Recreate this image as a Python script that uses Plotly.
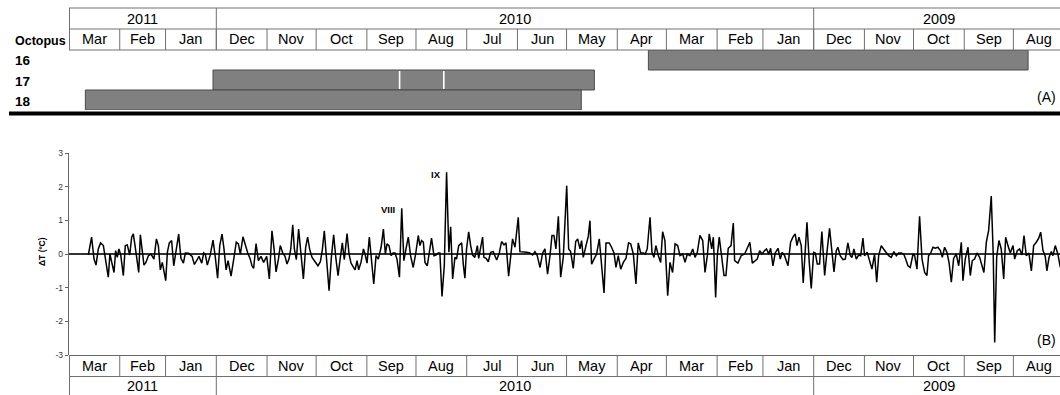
import pandas as pd
import plotly.graph_objects as go

W, H = 1060, 395
FONT = "Liberation Sans, Arial, sans-serif"

# ---------------- data ----------------
month_labels = ["Mar", "Feb", "Jan", "Dec", "Nov", "Oct", "Sep", "Aug", "Jul", "Jun",
                "May", "Apr", "Mar", "Feb", "Jan", "Dec", "Nov", "Oct", "Sep", "Aug"]
month_starts = ["2011-03-01", "2011-02-01", "2011-01-01", "2010-12-01", "2010-11-01",
                "2010-10-01", "2010-09-01", "2010-08-01", "2010-07-01", "2010-06-01",
                "2010-05-01", "2010-04-01", "2010-03-01", "2010-02-01", "2010-01-01",
                "2009-12-01", "2009-11-01", "2009-10-01", "2009-09-01", "2009-08-01"]
month_ends = ["2011-04-01"] + month_starts[:-1]

year_labels = ["2011", "2010", "2009"]
year_starts = ["2011-01-01", "2010-01-01", "2009-08-01"]
year_ends = ["2011-04-01", "2011-01-01", "2010-01-01"]

octopus_ids = [16, 17, 18]
record_start = ["2009-08-23", "2010-05-15", "2010-05-23"]
record_end = ["2010-04-12", "2011-01-03", "2011-03-22"]
gaps_octopus17 = ["2010-08-15", "2010-09-11"]

x_range = ["2011-04-01", "2009-08-03 12:00"]
reference_day = "2011-04-01"

# days before 1 April 2011, and daily temperature change (deg C)
day_offset = [
    11.8, 13.8, 15.3, 16.5, 17.9, 19.3, 21.0, 22.6, 24.0, 25.0, 26.5, 27.5, 28.5, 29.5, 30.5,
    31.6, 33.2, 34.4, 35.6, 37.1, 38.3, 39.3, 40.5, 41.3, 42.6, 43.6, 44.8, 45.8, 47.0, 48.5,
    50.1, 51.9, 53.4, 54.6, 55.8, 57.0, 59.1, 60.1, 61.3, 62.7, 64.0, 65.4, 67.0, 68.4, 69.9,
    71.1, 73.1, 75.2, 76.6, 78.0, 79.4, 81.1, 82.3, 83.3, 84.5, 86.2, 88.0, 89.4, 90.8, 92.1,
    93.5, 94.7, 96.0, 97.2, 99.0, 100.6, 102.2, 103.5, 104.7, 106.3, 107.7, 109.2, 110.6, 111.8,
    112.8, 114.3, 115.7, 117.3, 118.9, 120.8, 122.4, 124.0, 125.3, 126.5, 127.9, 129.1, 130.6,
    132.0, 133.2, 134.4, 135.5, 136.7, 137.7, 138.9, 140.3, 141.8, 143.2, 144.6, 145.8, 147.1,
    148.5, 149.5, 150.9, 152.1, 153.6, 154.8, 156.0, 157.4, 158.9, 160.3, 161.7, 163.0, 164.4,
    165.6, 167.0, 168.2, 169.9, 171.1, 172.3, 173.3, 174.8, 176.0, 177.0, 178.4, 179.9, 180.9,
    182.1, 183.5, 184.7, 186.2, 187.6, 189.0, 190.7, 192.1, 193.3, 194.3, 195.5, 196.8, 198.0,
    199.2, 200.4, 201.9, 203.3,
    204.6, 205.9, 207.3, 208.7, 210.3, 211.8, 213.4, 214.4, 215.4, 216.5, 217.5, 218.9, 220.1,
    221.5, 223.0, 224.2, 225.6, 226.6, 227.9, 229.3, 230.7, 232.1, 233.2, 234.4, 235.8, 236.8,
    238.1, 239.9, 240.9, 241.9, 242.9, 244.2, 245.4, 246.6, 248.0, 249.5, 250.3, 251.5, 252.7,
    253.5, 254.8, 256.2, 257.6, 259.2, 260.3, 261.3, 262.9, 264.3, 265.8, 267.0, 268.6, 269.8,
    271.0, 272.5, 274.5, 275.5, 277.6, 279.6, 281.6, 283.3, 284.7, 286.1, 287.8, 289.4, 290.8,
    292.4, 293.9, 295.1, 296.3, 297.5, 299.0, 300.4, 302.0, 304.1, 305.3, 306.5, 308.1, 309.6,
    310.8, 312.2, 313.2, 314.2, 315.9, 317.3, 318.3, 319.3, 320.8, 322.4, 324.0, 325.2, 326.9,
    328.1, 330.1, 331.5, 333.0, 334.2, 335.6, 337.1, 338.7, 340.3, 341.9, 343.2, 344.8, 346.4,
    347.8, 349.3, 350.9, 352.1, 353.3, 355.0, 356.2, 357.4, 358.6, 360.1, 361.5, 362.7, 364.1,
    365.8, 367.2, 368.8, 370.3, 371.9, 373.3, 375.0, 376.4, 377.8, 379.4, 381.1, 382.5, 383.9,
    385.5, 387.2, 388.6, 390.0, 391.2, 392.7, 393.7, 395.1, 396.1, 397.3, 398.8, 400.2, 401.4,
    402.8, 404.5, 405.9,
    406.7, 408.7, 410.7, 412.8, 414.4, 416.0, 417.5, 418.9, 420.5, 422.0, 423.4, 425.0, 426.2,
    427.5, 428.7, 430.1, 431.5, 433.2, 434.6, 435.8, 437.2, 439.3, 440.9, 442.3, 443.7, 444.8,
    446.0, 447.4, 448.6, 449.9, 450.9, 452.3, 453.5, 455.0, 456.0, 457.2, 458.6, 460.0, 461.7,
    463.1, 464.7, 466.2, 467.4, 468.8, 469.8, 471.2, 472.9, 474.3, 475.9, 477.4, 478.4, 479.6,
    481.0, 482.5, 483.7, 485.1, 486.1, 487.7, 489.2, 490.6, 492.2, 493.5, 494.7, 496.3, 497.7,
    499.4, 500.8, 502.4, 504.0, 505.5, 506.9, 508.5, 510.0, 511.2, 512.6, 514.0, 515.7, 516.7,
    518.1, 519.7, 521.2, 522.8, 524.2, 525.2, 526.5, 527.9, 529.3, 530.9, 532.4, 533.6, 535.0,
    536.4, 537.7, 539.1, 540.5, 542.1, 543.6, 545.2, 546.2, 547.6, 549.3, 550.7, 551.9, 553.3,
    554.8, 556.4, 557.8, 559.0, 560.5, 561.9, 563.5, 564.7, 565.6, 566.8, 568.2, 569.6, 571.1,
    572.3, 573.7, 575.1, 576.8, 577.8, 579.4, 580.8, 582.3, 583.5, 584.9, 586.5, 588.0, 589.4,
    591.0, 592.5, 593.7, 595.1, 596.5, 597.5, 598.8, 600.2, 601.2, 602.6, 604.2, 605.7,
]
delta_t = [
    -0.03, 0.50, -0.15, -0.33, 0.15, 0.33, 0.25, -0.25, -0.69, 0.00, -0.35, -0.55, 0.10, -0.10, 0.15,
    -0.03, -0.64, 0.25, 0.27, -0.03, 0.50, 0.60, 0.20, -0.07, -0.55, 0.57, 0.15, -0.33, -0.25, -0.05,
    0.00, -0.15, 0.45, 0.25, -0.47, -0.25, -0.79, 0.05, 0.33, 0.40, -0.35, 0.15, 0.59, -0.13, -0.27,
    0.03, 0.02, -0.07, -0.31, -0.20, -0.07, -0.27, 0.03, -0.01, -0.33, -0.05, 0.41, -0.10, -0.72, 0.25,
    0.59, 0.15, -0.47, -0.20, -0.66, -0.17, 0.35, 0.30, 0.00, 0.51, 0.25, 0.03, -0.13, -0.35,
    -0.43, 0.31, -0.20, -0.07, -0.25, -0.07, -0.74, 0.69, 0.15, -0.53, -0.17, 0.25, 0.03,
    -0.07, -0.30, -0.15, 0.15, 0.87, 0.15, -0.17, 0.74, -0.15, -0.74, 0.20, 0.50, 0.13,
    -0.10, -0.17, -0.27, -0.35, -0.23, 0.13, 0.69, -0.17, -1.09, -0.10, 0.57, -0.10, -0.64,
    -0.17, 0.33, -0.17, 0.61, 0.00, -0.27, -0.35, -0.47, -0.20, -0.47, -0.25, 0.15, 0.00,
    -0.27, 0.50, -0.20, -0.89, -0.05, -0.15, 0.20, 0.74, 0.00, 0.30, 0.25, -0.05, 0.03,
    0.03, -0.15, -0.69, 1.36,
    -0.20, 0.15, 0.50, -0.05, -0.40, 0.00, 0.55, 0.25, 0.40, 0.35, -0.25, -0.35, 0.00,
    0.47, -0.05, -0.03, 0.03, 0.03, -1.26, -0.35, 2.43, 0.05, 0.81, -0.74, -0.10, -0.15,
    0.25, 0.33, -0.30, -0.72, 0.15, 0.66, 0.25, -0.03, -0.10, 0.25, -0.13, 0.15, 0.50,
    -0.10, -0.13, -0.23, 0.05, 0.07, -0.05, -0.18, 0.03, 0.37, 0.27, 0.33, -0.66, -0.05,
    0.45, 0.20, 1.09, 0.07, 0.07, 0.05, 0.03, -0.03, 0.07, -0.05, -0.40, 0.03, 0.15,
    -0.60, -0.05, 0.55, 0.55, 0.15, 1.12, -0.69, -0.10, 2.03, 0.15, 0.07, -0.43, 0.37,
    0.45, 0.15, 0.40, -0.10, 0.25, 0.53, 0.99, -0.30, -0.15, 0.00, 0.45, -0.15, -1.16,
    0.33, 0.33, 0.20, 0.03, -0.40, -0.05, -0.45, -0.25, -0.13, 0.33, 0.30, 0.00, -0.89,
    0.33, 0.03, 0.03, 0.00, 0.15, 1.09, 0.05, -0.10, 0.25, -0.05, -0.25, 0.66, 0.40,
    -1.24, -0.25, -0.55, 0.30, 0.25, -0.05, 0.00, -0.25, 0.00, -0.05, 0.15, -0.10, 0.05,
    0.55, 0.40, -0.55, -0.05, 0.60, 0.15, 0.50, -1.29, -0.05, 0.50, -0.15, -0.64, -0.64,
    0.17, 0.25, 0.92,
    -0.20, -0.27, -0.05, 0.00, 0.17, 0.35, -0.27, -0.20, -0.15, 0.10, 0.00, 0.10, 0.15,
    0.00, 0.17, -0.35, 0.03, 0.17, -0.15, 0.05, -0.05, -0.35, 0.35, 0.50, 0.60, 0.25,
    0.50, 0.25, -0.86, 0.15, 0.94, -0.25, -1.02, 0.05, 0.03, -0.30, -0.30, 0.67, -0.64,
    0.05, 0.76, 0.05, -0.53, 0.10, 0.20, -0.05, -0.17, -0.15, 0.33, -0.05, -0.10, 0.15,
    -0.15, -0.03, -0.05, 0.47, -0.05, 0.05, -0.25, -0.45, 0.00, -0.84, -0.05, 0.25, 0.15,
    0.03, -0.05, -0.10, 0.07, -0.05, 0.03, 0.03, 0.00, -0.15, -0.35, -0.40, 0.00, -0.05,
    -0.45, 1.12, -0.15, -0.55, -0.64, -0.05, 0.03, 0.20, 0.17, 0.20, 0.10, -0.10, 0.20,
    0.05, -0.25, -0.84, -0.13, 0.00, -0.35, 0.35, -0.79, -0.15, 0.20, -0.64, -0.20, -0.15,
    0.03, -0.10, -0.35, -0.55, 0.35, 0.70, 1.72, 0.00, -2.63, -0.10, 0.40, 0.15, -0.74,
    0.50, 0.25, 0.03, 0.25, -0.15, 0.10, 0.15, -0.03, 0.55, -0.05, 0.03, -0.50, 0.25,
    0.35, 0.47, 0.65, 0.10, -0.07, -0.50, -0.10, 0.07, -0.05, 0.25, 0.00, -0.40,
]

y_tick_values = [-3, -2, -1, 0, 1, 2, 3]
y_tick_labels = ["-3", "-2", "-1", "0", "1", "2", "3"]

peak_labels = ["VIII", "IX"]

# ---------------- helpers (layout geometry) ----------------
def py(pix):
    return 1 - pix / H

def pxp(pix):
    return pix / W

def mid(a, b):
    a, b = pd.Timestamp(a), pd.Timestamp(b)
    return a + (b - a) / 2

LINE_C = "#707070"
X_LEFT = 69

dates = pd.Timestamp(reference_day) - pd.to_timedelta(day_offset, unit="D")

fig = go.Figure()

# gantt bars (panel A)
durations = [(pd.Timestamp(e) - pd.Timestamp(s)).total_seconds() * 1000
             for s, e in zip(record_start, record_end)]
fig.add_trace(go.Bar(
    y=octopus_ids, x=durations, base=record_start, orientation="h", width=1,
    marker=dict(color="#808080", line=dict(color="#4a4a4a", width=1)),
    xaxis="x2", yaxis="y2", showlegend=False, hoverinfo="skip",
))
gx, gy = [], []
for g in gaps_octopus17:
    gx += [g, g, None]
    gy += [16.55, 17.45, None]
fig.add_trace(go.Scatter(x=gx, y=gy, mode="lines", line=dict(color="white", width=1.6),
                         xaxis="x2", yaxis="y2", showlegend=False, hoverinfo="skip"))

# temperature series (panel B)
fig.add_trace(go.Scatter(x=dates, y=delta_t, mode="lines",
                         line=dict(color="black", width=1.5),
                         xaxis="x", yaxis="y", showlegend=False))

shapes = []
annotations = []

def hline(ypix, color=LINE_C, width=1, x0=X_LEFT):
    shapes.append(dict(type="line", xref="paper", yref="paper", x0=pxp(x0), x1=1,
                       y0=py(ypix), y1=py(ypix), line=dict(color=color, width=width)))

def vline_date(d, y0pix, y1pix):
    shapes.append(dict(type="line", xref="x", yref="paper", x0=d, x1=d,
                       y0=py(y0pix), y1=py(y1pix), line=dict(color=LINE_C, width=1)))

def vline_left(y0pix, y1pix):
    shapes.append(dict(type="line", xref="paper", yref="paper", x0=pxp(X_LEFT + 0.5),
                       x1=pxp(X_LEFT + 0.5), y0=py(y0pix), y1=py(y1pix),
                       line=dict(color=LINE_C, width=1)))

def text(x, y, s, size, xref="x", bold=False, xanchor="center", color="black", angle=0):
    annotations.append(dict(x=x, y=y, xref=xref, yref="paper", text=(f"<b>{s}</b>" if bold else s),
                            showarrow=False, xanchor=xanchor, yanchor="middle", textangle=angle,
                            font=dict(family=FONT, size=size, color=color)))

# --- top table (years + months) ---
for yp in (8, 29, 50):
    hline(yp)
vline_left(8, 50)
for ys in year_starts[:2]:
    vline_date(ys, 8, 50)
for ms in month_starts:
    vline_date(ms, 29, 50)
for lab, s, e in zip(year_labels, year_starts, year_ends):
    text(mid(s, e), py(18.5), lab, 14.5)
for lab, s, e in zip(month_labels, month_starts, month_ends):
    text(mid(s, e), py(39.5), lab, 14.5)

# --- bottom table (months + years) ---
hline(355.5, color="#666666")
hline(376.5)
vline_left(355, 395)
for ys in year_starts[:2]:
    vline_date(ys, 376, 395)
for ms in month_starts:
    vline_date(ms, 355, 376)
for lab, s, e in zip(month_labels, month_starts, month_ends):
    text(mid(s, e), py(366), lab, 14.5)
for lab, s, e in zip(year_labels, year_starts, year_ends):
    text(mid(s, e), py(386), lab, 14.5)

# thick separator
shapes.append(dict(type="line", xref="paper", yref="paper", x0=pxp(9), x1=1,
                   y0=py(113.5), y1=py(113.5), line=dict(color="black", width=4)))

# labels
text(pxp(13), py(41), "Octopus", 12.5, xref="paper", bold=True, xanchor="left")
for oid, yp in zip(octopus_ids, (61, 81, 101)):
    text(pxp(13), py(yp), str(oid), 13.5, xref="paper", bold=True, xanchor="left")
text(pxp(1058), py(97), "(A)", 14, xref="paper", xanchor="right")
text(pxp(1058), py(339.5), "(B)", 14, xref="paper", xanchor="right")
text(pxp(42), py(252), "ΔT (ºC)", 8.5, xref="paper", bold=True, angle=-90)
text(pxp(387.5), py(210), peak_labels[0], 9.5, xref="paper", bold=True)
text(pxp(436), py(174), peak_labels[1], 9.5, xref="paper", bold=True)

fig.update_layout(
    template="none",
    width=W, height=H,
    margin=dict(l=0, r=0, t=0, b=0, pad=0, autoexpand=False),
    paper_bgcolor="white", plot_bgcolor="rgba(0,0,0,0)",
    font=dict(family=FONT, color="black"),
    showlegend=False,
    xaxis=dict(type="date", domain=[pxp(X_LEFT), 1], range=x_range, anchor="y", automargin=False,
               showticklabels=False, ticks="", showgrid=False, zeroline=False, showline=False),
    yaxis=dict(domain=[py(355), py(153)], range=[-3, 3], anchor="x", automargin=False,
               tickmode="array", tickvals=y_tick_values, ticktext=y_tick_labels,
               ticks="outside", ticklen=3, tickwidth=1, tickcolor="#666",
               showline=True, linecolor="#666", linewidth=1.2,
               zeroline=True, zerolinecolor="#333", zerolinewidth=1.2,
               showgrid=False, tickfont=dict(family=FONT, size=8.5, color="#333")),
    xaxis2=dict(type="date", domain=[pxp(X_LEFT), 1], matches="x", anchor="y2",
                visible=False, automargin=False),
    yaxis2=dict(domain=[py(110), py(50)], range=[18.5, 15.5], anchor="x2",
                visible=False, automargin=False),
    shapes=shapes,
    annotations=annotations,
    bargap=0,
)

fig.write_html(
    "out.html",
    config={"displayModeBar": False, "staticPlot": True},
    post_script="document.body.style.margin='0';document.body.style.overflow='hidden';"
                "document.documentElement.style.overflow='hidden';",
)
